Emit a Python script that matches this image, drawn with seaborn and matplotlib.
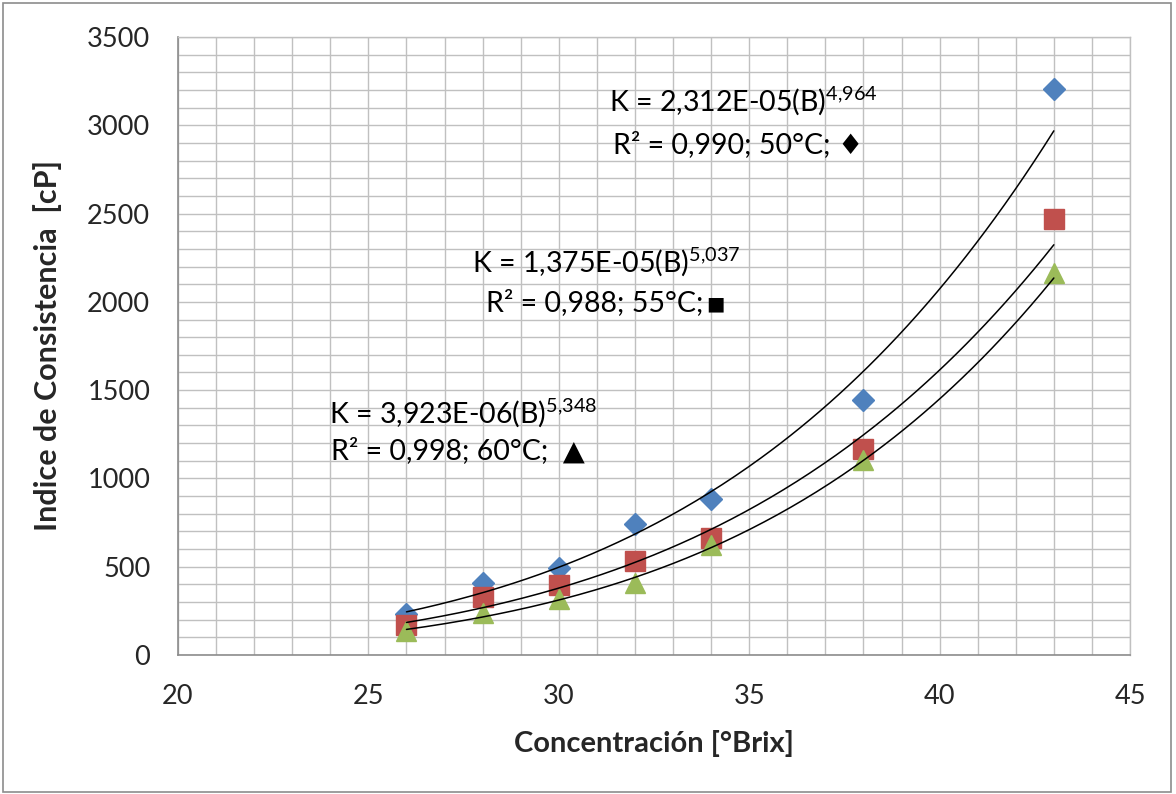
import numpy as np
import pandas as pd
import matplotlib
matplotlib.use("Agg")
import matplotlib.pyplot as plt
from matplotlib.patches import Rectangle
import seaborn as sns

# ---- data ----
brix = [26, 28, 30, 32, 34, 38, 43]
k_50 = [230, 405, 490, 740, 882, 1442, 3205]
k_55 = [168, 326, 396, 532, 662, 1165, 2470]
k_60 = [136, 236, 316, 410, 625, 1104, 2162]

# power-law trendline coefficients shown on the chart: K = a * B^b
fit_a = [2.312e-05, 1.375e-05, 3.923e-06]
fit_b = [4.964, 5.037, 5.348]
series_names = ["50°C", "55°C", "60°C"]
colors = ["#4F81BD", "#C0504D", "#9BBB59"]
markers = ["D", "s", "^"]
msizes = [11.5, 14, 14.5]

sns.set_theme(style="white")
plt.rcParams["font.family"] = ["Lato", "DejaVu Sans"]
plt.rcParams["mathtext.fontset"] = "custom"
plt.rcParams["mathtext.rm"] = "Lato"
plt.rcParams["mathtext.it"] = "Lato:italic"
plt.rcParams["mathtext.bf"] = "Lato:bold"
plt.rcParams["mathtext.default"] = "regular"

fig = plt.figure(figsize=(11.76, 7.94), dpi=100)
ax = fig.add_axes([178 / 1176, 1 - 655 / 794, (1130 - 178) / 1176, (655 - 37) / 794])

# trendlines
for a, b in zip(fit_a, fit_b):
    xs = np.linspace(brix[0], brix[-1], 200)
    df_fit = pd.DataFrame({"x": xs, "y": a * xs ** b})
    sns.lineplot(data=df_fit, x="x", y="y", ax=ax, color="black", lw=1.1, zorder=4)

# data points
for vals, c, m, ms in zip([k_50, k_55, k_60], colors, markers, msizes):
    df = pd.DataFrame({"x": brix, "y": vals})
    ax.plot(df["x"], df["y"], ls="none", marker=m, ms=ms, color=c, mec=c, zorder=3)

ax.set_xlim(20, 45)
ax.set_ylim(0, 3500)
ax.set_xticks(np.arange(20, 46, 5))
ax.set_yticks(np.arange(0, 3501, 500))
ax.set_xticks(np.arange(20, 46, 1), minor=True)
ax.set_yticks(np.arange(0, 3501, 100), minor=True)
ax.grid(which="both", color="#C0C0C0", lw=1.0)
ax.set_axisbelow(True)
ax.tick_params(which="both", length=0)
ax.tick_params(axis="x", pad=21, labelsize=19.5)
ax.tick_params(axis="y", pad=20, labelsize=19.5)
for s in ["top", "right"]:
    ax.spines[s].set_color("#C0C0C0")
    ax.spines[s].set_linewidth(1.0)
for s in ["left", "bottom"]:
    ax.spines[s].set_color("#8C8C8C")
    ax.spines[s].set_linewidth(1.2)

ax.set_xlabel("Concentración [°Brix]", fontsize=21, fontweight="bold")
ax.set_ylabel("Indice de Consistencia  [cP]", fontsize=22, fontweight="bold")
ax.xaxis.set_label_coords(0.5, -0.122)
ax.yaxis.set_label_coords(-0.122, 0.5)

# equation annotations
def fmt(v):
    return f"{v:.3f}".replace(".", "{,}")

labels_k = [
    "K = 2,312E-05(B)$^{" + fmt(fit_b[0]) + "}$",
    "K = 1,375E-05(B)$^{" + fmt(fit_b[1]) + "}$",
    "K = 3,923E-06(B)$^{" + fmt(fit_b[2]) + "}$",
]
labels_r = [
    "R² = 0,990; 50°C; ♦",
    "R² = 0,988; 55°C;",
    "R² = 0,998; 60°C;  ▲",
]
pos_k = [(34.85, 3140), (31.25, 2225), (27.5, 1370)]
pos_r = [(34.7, 2890), (30.95, 1995), (27.35, 1160)]
for t, (x, y) in zip(labels_k, pos_k):
    ax.text(x, y, t, ha="center", va="center", fontsize=20.5, color="black", zorder=5)
r_texts = []
for t, (x, y) in zip(labels_r, pos_r):
    r_texts.append(ax.text(x, y, t, ha="center", va="center", fontsize=20.5,
                           color="black", zorder=5))
# small filled square symbol after the 55 °C line
ax.annotate("■", xy=(1, 0.5), xycoords=r_texts[1], xytext=(2, -1),
            textcoords="offset points", ha="left", va="center",
            fontsize=14, family="DejaVu Sans", color="black", zorder=5)

# outer chart border
fig.patches.append(Rectangle((3 / 1176, 2 / 794), 1168 / 1176, 789 / 794,
                             transform=fig.transFigure, fill=False,
                             edgecolor="#8C8C8C", lw=1.2))

fig.savefig("out.png", dpi=100)
